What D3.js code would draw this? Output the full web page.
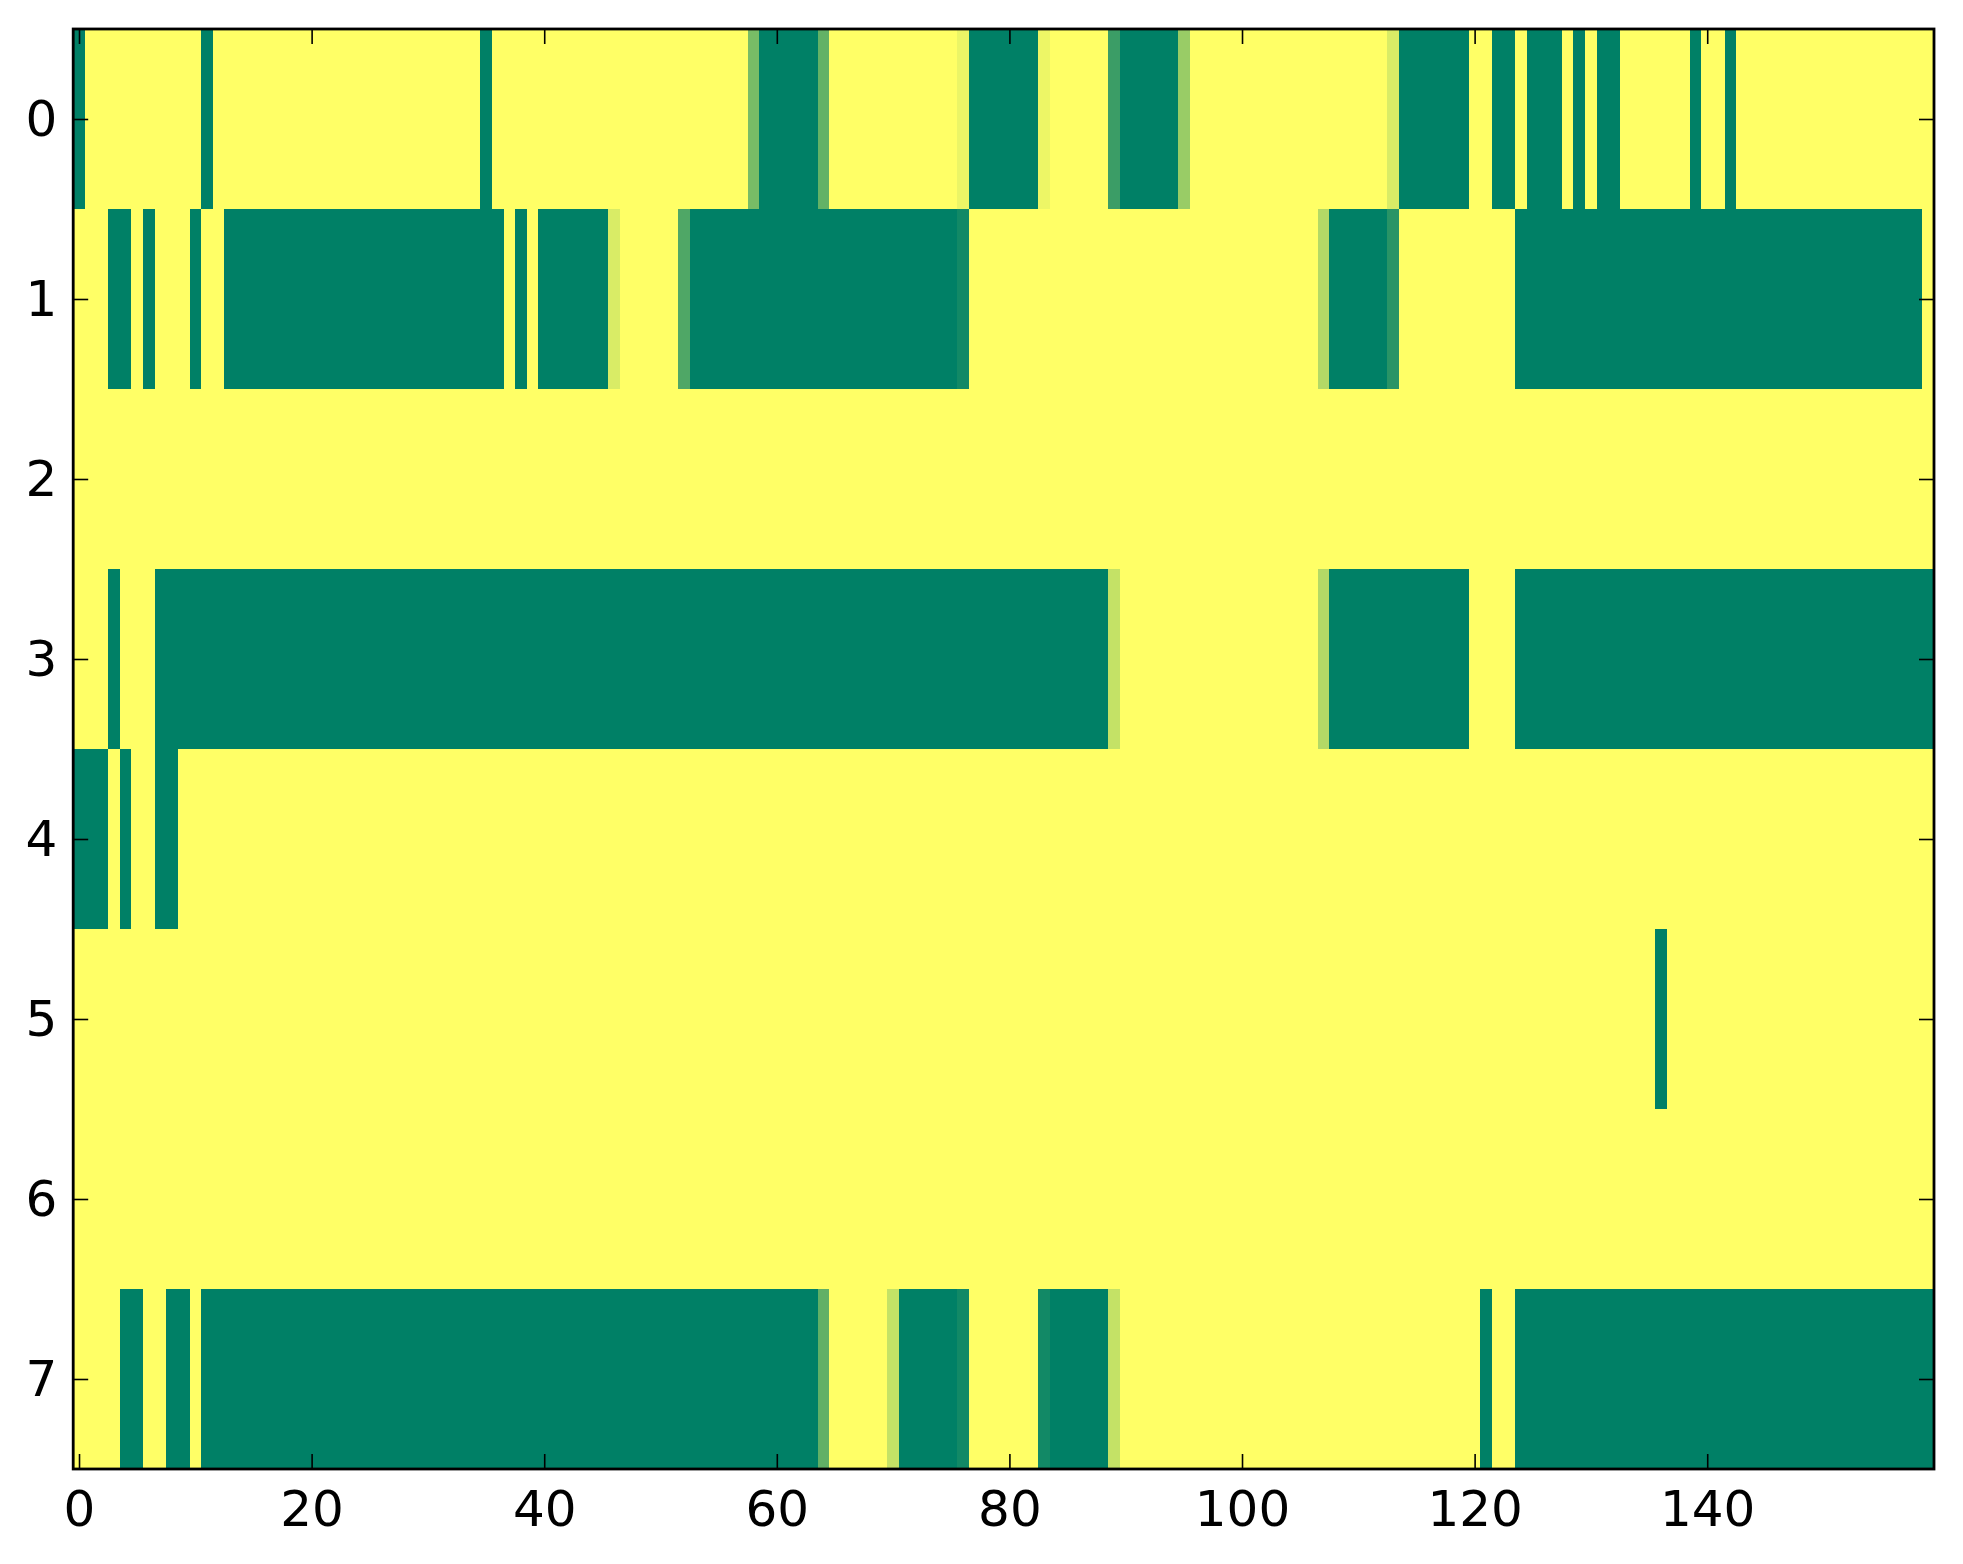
<!DOCTYPE html>
<html>
<head>
<meta charset="utf-8">
<script src="https://cdn.jsdelivr.net/npm/d3@7"></script>
<style>
  html, body { margin: 0; padding: 0; background: #ffffff; }
  svg { display: block; }
</style>
</head>
<body>
<svg id="chart" width="1963" height="1564"></svg>
<script>
// Row labels (y categories) and tick labels
const rowLabels = [0, 1, 2, 3, 4, 5, 6, 7];
const xTickValues = [0, 20, 40, 60, 80, 100, 120, 140];
const yTickValues = [0, 1, 2, 3, 4, 5, 6, 7];

// Cell values per row (0 = green, 1 = yellow; fractional = blended edge colour as seen)
const row0 = [
  0,1,1,1,1,1,1,1,1,1,
  1,0,1,1,1,1,1,1,1,1,
  1,1,1,1,1,1,1,1,1,1,
  1,1,1,1,1,0,1,1,1,1,
  1,1,1,1,1,1,1,1,1,1,
  1,1,1,1,1,1,1,1,0.47,0,
  0,0,0,0,0.39,1,1,1,1,1,
  1,1,1,1,1,1,0.92,0,0,0,
  0,0,0,0.93,1,1,1,1,1,0.23,
  0,0,0,0,0,0.6,1,1,1,1,
  1,1,1,1,1,1,1,1,1,1,
  1,1,1,0.85,0,0,0,0,0,0,
  1,1,0,0,1,0,0,0,1,0,
  1,0,0,1,1,1,1,1,1,0,
  1,1,0,1,1,1,1,1,1,1,
  1,1,1,1,1,1,1,1,1,1
];
const row1 = [
  1,1,1,0,0,1,0,1,1,1,
  0,1,1,0,0,0,0,0,0,0,
  0,0,0,0,0,0,0,0,0,0,
  0,0,0,0,0,0,0,1,0,1,
  0,0,0,0,0,0,0.85,1,1,1,
  1,1,0.31,0,0,0,0,0,0,0,
  0,0,0,0,0,0,0,0,0,0,
  0,0,0,0,0,0,0.07,1,1,1,
  1,1,1,1,1,1,1,1,1,1,
  1,1,1,1,1,1,1,1,1,1,
  1,1,1,1,1,1,1,0.7,0,0,
  0,0,0,0.16,1,1,1,1,1,1,
  1,1,1,1,0,0,0,0,0,0,
  0,0,0,0,0,0,0,0,0,0,
  0,0,0,0,0,0,0,0,0,0,
  0,0,0,0,0,0,0,0,0,1
];
const row2 = [
  1,1,1,1,1,1,1,1,1,1,
  1,1,1,1,1,1,1,1,1,1,
  1,1,1,1,1,1,1,1,1,1,
  1,1,1,1,1,1,1,1,1,1,
  1,1,1,1,1,1,1,1,1,1,
  1,1,1,1,1,1,1,1,1,1,
  1,1,1,1,1,1,1,1,1,1,
  1,1,1,1,1,1,1,1,1,1,
  1,1,1,1,1,1,1,1,1,1,
  1,1,1,1,1,1,1,1,1,1,
  1,1,1,1,1,1,1,1,1,1,
  1,1,1,1,1,1,1,1,1,1,
  1,1,1,1,1,1,1,1,1,1,
  1,1,1,1,1,1,1,1,1,1,
  1,1,1,1,1,1,1,1,1,1,
  1,1,1,1,1,1,1,1,1,1
];
const row3 = [
  1,1,1,0,1,1,1,0,0,0,
  0,0,0,0,0,0,0,0,0,0,
  0,0,0,0,0,0,0,0,0,0,
  0,0,0,0,0,0,0,0,0,0,
  0,0,0,0,0,0,0,0,0,0,
  0,0,0,0,0,0,0,0,0,0,
  0,0,0,0,0,0,0,0,0,0,
  0,0,0,0,0,0,0,0,0,0,
  0,0,0,0,0,0,0,0,0,0.77,
  1,1,1,1,1,1,1,1,1,1,
  1,1,1,1,1,1,1,0.7,0,0,
  0,0,0,0,0,0,0,0,0,0,
  1,1,1,1,0,0,0,0,0,0,
  0,0,0,0,0,0,0,0,0,0,
  0,0,0,0,0,0,0,0,0,0,
  0,0,0,0,0,0,0,0,0,0
];
const row4 = [
  0,0,0,1,0,1,1,0,0,1,
  1,1,1,1,1,1,1,1,1,1,
  1,1,1,1,1,1,1,1,1,1,
  1,1,1,1,1,1,1,1,1,1,
  1,1,1,1,1,1,1,1,1,1,
  1,1,1,1,1,1,1,1,1,1,
  1,1,1,1,1,1,1,1,1,1,
  1,1,1,1,1,1,1,1,1,1,
  1,1,1,1,1,1,1,1,1,1,
  1,1,1,1,1,1,1,1,1,1,
  1,1,1,1,1,1,1,1,1,1,
  1,1,1,1,1,1,1,1,1,1,
  1,1,1,1,1,1,1,1,1,1,
  1,1,1,1,1,1,1,1,1,1,
  1,1,1,1,1,1,1,1,1,1,
  1,1,1,1,1,1,1,1,1,1
];
const row5 = [
  1,1,1,1,1,1,1,1,1,1,
  1,1,1,1,1,1,1,1,1,1,
  1,1,1,1,1,1,1,1,1,1,
  1,1,1,1,1,1,1,1,1,1,
  1,1,1,1,1,1,1,1,1,1,
  1,1,1,1,1,1,1,1,1,1,
  1,1,1,1,1,1,1,1,1,1,
  1,1,1,1,1,1,1,1,1,1,
  1,1,1,1,1,1,1,1,1,1,
  1,1,1,1,1,1,1,1,1,1,
  1,1,1,1,1,1,1,1,1,1,
  1,1,1,1,1,1,1,1,1,1,
  1,1,1,1,1,1,1,1,1,1,
  1,1,1,1,1,1,0,1,1,1,
  1,1,1,1,1,1,1,1,1,1,
  1,1,1,1,1,1,1,1,1,1
];
const row6 = [
  1,1,1,1,1,1,1,1,1,1,
  1,1,1,1,1,1,1,1,1,1,
  1,1,1,1,1,1,1,1,1,1,
  1,1,1,1,1,1,1,1,1,1,
  1,1,1,1,1,1,1,1,1,1,
  1,1,1,1,1,1,1,1,1,1,
  1,1,1,1,1,1,1,1,1,1,
  1,1,1,1,1,1,1,1,1,1,
  1,1,1,1,1,1,1,1,1,1,
  1,1,1,1,1,1,1,1,1,1,
  1,1,1,1,1,1,1,1,1,1,
  1,1,1,1,1,1,1,1,1,1,
  1,1,1,1,1,1,1,1,1,1,
  1,1,1,1,1,1,1,1,1,1,
  1,1,1,1,1,1,1,1,1,1,
  1,1,1,1,1,1,1,1,1,1
];
const row7 = [
  1,1,1,1,0,0,1,1,0,0,
  1,0,0,0,0,0,0,0,0,0,
  0,0,0,0,0,0,0,0,0,0,
  0,0,0,0,0,0,0,0,0,0,
  0,0,0,0,0,0,0,0,0,0,
  0,0,0,0,0,0,0,0,0,0,
  0,0,0,0,0.38,1,1,1,1,1,
  0.77,0,0,0,0,0,0.07,1,1,1,
  1,1,1,0.07,0,0,0,0,0,0.77,
  1,1,1,1,1,1,1,1,1,1,
  1,1,1,1,1,1,1,1,1,1,
  1,1,1,1,1,1,1,1,1,1,
  1,0,1,1,0,0,0,0,0,0,
  0,0,0,0,0,0,0,0,0,0,
  0,0,0,0,0,0,0,0,0,0,
  0,0,0,0,0,0,0,0,0,0
];

const rows = [row0, row1, row2, row3, row4, row5, row6, row7];
const nCols = row0.length;

const cells = [];
rows.forEach((r, ri) => r.forEach((v, ci) => cells.push({ row: rowLabels[ri], col: ci, v })));

const svg = d3.select("#chart");
const plotLeft = 73.2, plotRight = 1934, plotTop = 29, plotBottom = 1469;

const x = d3.scaleLinear().domain([-0.5, nCols - 0.5]).range([plotLeft, plotRight]);
const y = d3.scaleLinear().domain([-0.5, rows.length - 0.5]).range([plotTop, plotBottom]);
// "summer" colormap: linear from (0,0.5,0.4) to (1,1,0.4)
const color = d3.scaleLinear().domain([0, 1]).range(["#008066", "#ffff66"]).interpolate(d3.interpolateRgb);

svg.append("rect").attr("width", 1963).attr("height", 1564).attr("fill", "#ffffff");

svg.append("g")
  .selectAll("rect")
  .data(cells)
  .join("rect")
  .attr("x", d => x(d.col - 0.5))
  .attr("y", d => y(d.row - 0.5))
  .attr("width", d => x(d.col + 0.5) - x(d.col - 0.5) + 0.4)
  .attr("height", d => y(d.row + 0.5) - y(d.row - 0.5) + 0.4)
  .attr("fill", d => color(d.v))
  .attr("shape-rendering", "crispEdges");

const font = "'DejaVu Sans', sans-serif";

function styleAxis(g) {
  g.select(".domain").remove();
  g.selectAll(".tick line").attr("stroke", "#000").attr("stroke-width", 1.6);
  g.selectAll(".tick text").attr("fill", "#000").style("font-family", font).style("font-size", "50px");
}

svg.append("g")
  .attr("transform", `translate(0,${plotBottom})`)
  .call(d3.axisBottom(x).tickValues(xTickValues).tickSizeInner(-15).tickSizeOuter(0).tickPadding(21))
  .call(styleAxis);

svg.append("g")
  .attr("transform", `translate(0,${plotTop})`)
  .call(d3.axisTop(x).tickValues(xTickValues).tickSizeInner(-15).tickSizeOuter(0).tickFormat(""))
  .call(styleAxis);

svg.append("g")
  .attr("transform", `translate(${plotLeft},0)`)
  .call(d3.axisLeft(y).tickValues(yTickValues).tickSizeInner(-15).tickSizeOuter(0).tickPadding(16))
  .call(styleAxis);

svg.append("g")
  .attr("transform", `translate(${plotRight},0)`)
  .call(d3.axisRight(y).tickValues(yTickValues).tickSizeInner(-15).tickSizeOuter(0).tickFormat(""))
  .call(styleAxis);

// axes frame
svg.append("rect")
  .attr("x", plotLeft).attr("y", plotTop)
  .attr("width", plotRight - plotLeft).attr("height", plotBottom - plotTop)
  .attr("fill", "none").attr("stroke", "#000").attr("stroke-width", 2.8);
</script>
</body>
</html>
